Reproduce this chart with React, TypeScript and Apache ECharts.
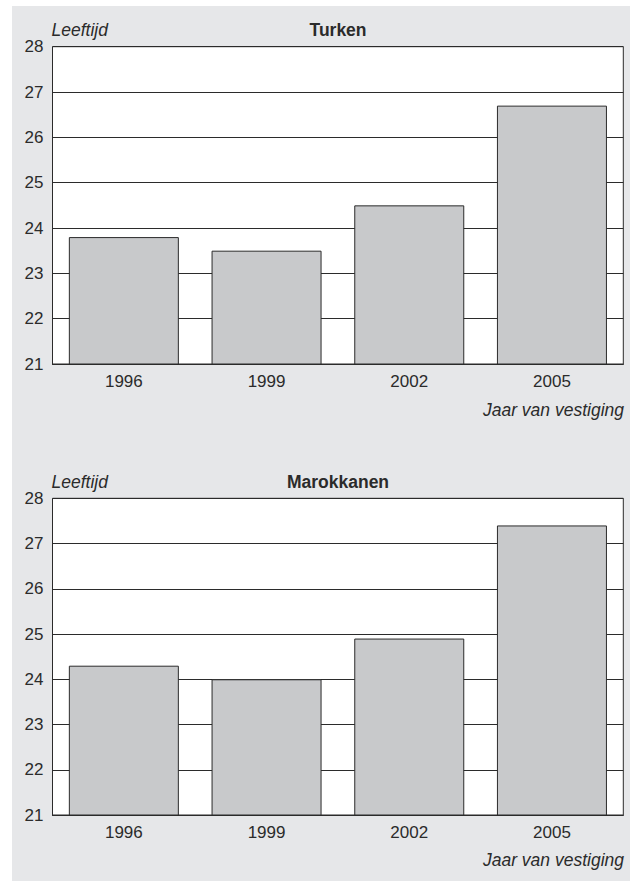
import React, { useEffect, useRef } from "react";
import * as echarts from "echarts";

const years = ["1996", "1999", "2002", "2005"];
const turken = [23.8, 23.5, 24.5, 26.7];
const marokkanen = [24.3, 24.0, 24.9, 27.4];
const titles = ["Turken", "Marokkanen"];
const yName = "Leeftijd";
const xName = "Jaar van vestiging";

const W = 639;
const H = 881;
const FONT = "'Liberation Sans', Arial, Helvetica, sans-serif";
const DARK = "#2b2b2b";

export default function App() {
  const ref = useRef<HTMLDivElement>(null);
  useEffect(() => {
    if (!ref.current) return;
    const chart = echarts.init(ref.current, undefined, { renderer: "svg" });
    const grids = [
      { left: 52.5, top: 46.7, width: 570.8, height: 317.3 },
      { left: 52.5, top: 498.3, width: 570.8, height: 316.7 },
    ];
    const seriesData = [turken, marokkanen];
    const titleY = [30, 482];
    const xNameY = [410, 860];
    const graphic: any[] = [
      {
        type: "rect",
        z: -10,
        silent: true,
        shape: { x: 12, y: 6, width: 618, height: 875 },
        style: { fill: "#e6e7e9" },
      },
    ];
    grids.forEach((g, i) => {
      graphic.push({
        type: "text",
        x: 51.5,
        y: titleY[i],
        style: {
          text: yName,
          font: `italic 17.5px ${FONT}`,
          fill: DARK,
          textAlign: "left",
          textVerticalAlign: "middle",
        },
      });
      graphic.push({
        type: "text",
        x: 338,
        y: titleY[i],
        style: {
          text: titles[i],
          font: `bold 17.5px ${FONT}`,
          fill: DARK,
          textAlign: "center",
          textVerticalAlign: "middle",
        },
      });
      graphic.push({
        type: "text",
        x: 624,
        y: xNameY[i],
        style: {
          text: xName,
          font: `italic 17.5px ${FONT}`,
          fill: DARK,
          textAlign: "right",
          textVerticalAlign: "middle",
        },
      });
    });

    chart.setOption({
      animation: false,
      grid: grids.map((g) => ({
        ...g,
        show: true,
        backgroundColor: "#ffffff",
        borderColor: DARK,
        borderWidth: 1,
      })),
      xAxis: grids.map((_, i) => ({
        type: "category",
        gridIndex: i,
        data: years,
        axisLine: { show: true, lineStyle: { color: DARK, width: 1 } },
        axisTick: { show: false },
        axisLabel: {
          color: DARK,
          fontSize: 17,
          fontFamily: FONT,
          margin: 9,
        },
      })),
      yAxis: grids.map((_, i) => ({
        type: "value",
        gridIndex: i,
        min: 21,
        max: 28,
        interval: 1,
        axisLine: { show: false },
        axisTick: { show: false },
        axisLabel: {
          color: DARK,
          fontSize: 17,
          fontFamily: FONT,
          margin: 9,
        },
        splitLine: { show: true, lineStyle: { color: DARK, width: 1 } },
      })),
      series: seriesData.map((d, i) => ({
        type: "bar",
        xAxisIndex: i,
        yAxisIndex: i,
        data: d,
        barWidth: 110,
        itemStyle: {
          color: "#c8c9cb",
          borderColor: DARK,
          borderWidth: 1,
        },
      })),
      graphic,
    });
    return () => chart.dispose();
  }, []);
  return (
    <div
      ref={ref}
      style={{ position: "absolute", left: 0, top: 0, width: W, height: H }}
    />
  );
}
